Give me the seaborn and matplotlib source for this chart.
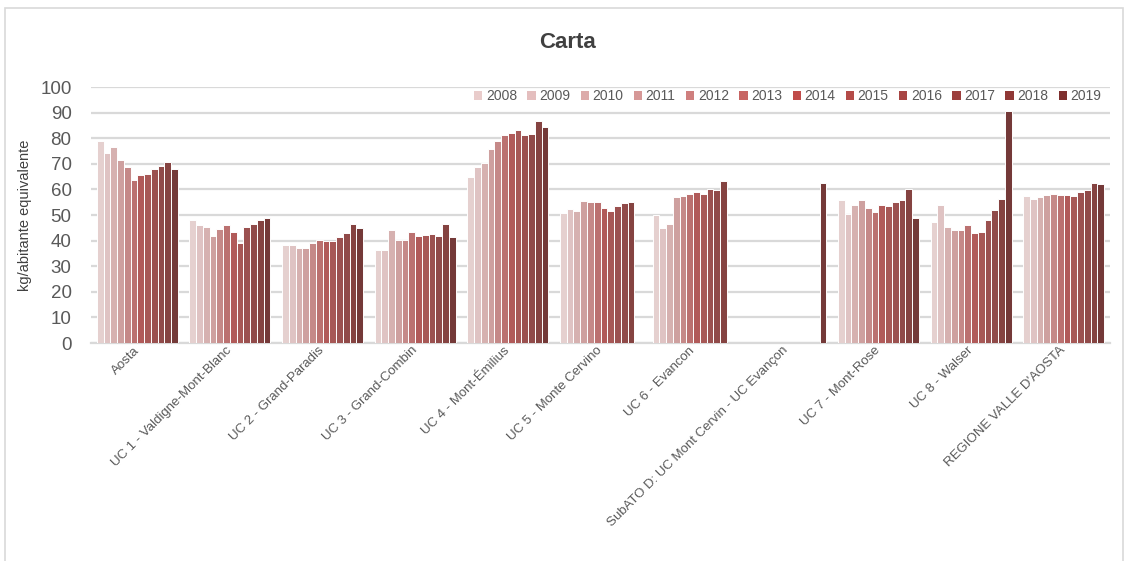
import numpy as np
import pandas as pd
import matplotlib
matplotlib.use("Agg")
import matplotlib.pyplot as plt
import matplotlib.patches as mpatches
import seaborn as sns

nan = np.nan
years = [str(y) for y in range(2008, 2020)]
categories = ["Aosta", "UC 1 - Valdigne-Mont-Blanc", "UC 2 - Grand-Paradis",
              "UC 3 - Grand-Combin", "UC 4 - Mont-Émilius", "UC 5 - Monte Cervino",
              "UC 6 - Evancon", "SubATO D: UC Mont Cervin - UC Evançon",
              "UC 7 - Mont-Rose", "UC 8 - Walser", "REGIONE VALLE D'AOSTA"]

aosta = [78.9, 74.4, 76.5, 71.4, 68.9, 63.5, 65.5, 65.9, 68.0, 69.3, 70.6, 68.0]
uc1 = [48.1, 46.0, 45.3, 41.9, 44.5, 46.0, 43.2, 38.9, 45.3, 46.6, 48.2, 49.0]
uc2 = [38.1, 38.4, 37.2, 37.2, 38.9, 40.2, 39.7, 39.7, 41.5, 42.8, 46.6, 44.9]
uc3 = [36.3, 36.3, 44.0, 40.2, 40.2, 43.2, 41.9, 42.3, 42.7, 41.9, 46.6, 41.5]
uc4 = [65.0, 68.9, 70.2, 75.7, 79.1, 81.1, 81.9, 83.2, 81.1, 81.7, 86.6, 84.4]
uc5 = [50.7, 52.4, 51.6, 55.4, 55.0, 55.0, 52.8, 51.6, 53.7, 54.5, 55.0, nan]
uc6 = [50.1, 44.9, 46.6, 57.1, 57.5, 58.3, 58.8, 58.3, 60.1, 59.7, 63.3, nan]
subato_d = [nan] * 11 + [62.5]
uc7 = [55.8, 50.3, 54.1, 55.8, 52.8, 51.1, 54.1, 53.7, 55.0, 55.8, 60.1, 49.0]
uc8 = [47.3, 54.1, 45.3, 44.0, 44.3, 46.0, 43.0, 43.4, 48.1, 52.0, 56.2, 90.8]
regione = [57.5, 56.2, 57.0, 57.7, 58.3, 57.7, 57.7, 57.3, 59.0, 59.6, 62.4, 62.0]

series = [aosta, uc1, uc2, uc3, uc4, uc5, uc6, subato_d, uc7, uc8, regione]

colors = ["#E9CCCB", "#E4BEBE", "#DCABAA", "#D69897", "#CF7F7E", "#C86563",
          "#C04C4A", "#B44B48", "#A84543", "#9C3F3D", "#903836", "#7E2F2E"]

rows = []
for cat, vals in zip(categories, series):
    for yr, v in zip(years, vals):
        rows.append({"cat": cat, "year": yr, "val": v})
df = pd.DataFrame(rows)

sns.set_style("white")
font_list = ["Liberation Sans", "DejaVu Sans"]
plt.rcParams["font.family"] = font_list

fig = plt.figure(figsize=(11.29, 5.61), dpi=100)
ax = fig.add_axes([91 / 1129, 1 - 343 / 561, (1110 - 91) / 1129, (343 - 87) / 561])

sns.barplot(data=df, x="cat", y="val", hue="year", order=categories,
            hue_order=years, palette=colors, width=0.875, errorbar=None,
            edgecolor="white", linewidth=0.7, ax=ax, legend=False, zorder=3)

ax.set_ylim(0, 100)
ax.set_xlim(-0.5, len(categories) - 0.5)
ax.set_yticks(range(0, 101, 10))
ax.yaxis.grid(True, color="#D9D9D9", linewidth=1.6, zorder=0)
ax.set_axisbelow(True)
for s in ["top", "right", "left"]:
    ax.spines[s].set_visible(False)
ax.spines["bottom"].set_color("#D9D9D9")
ax.spines["bottom"].set_linewidth(1.6)
ax.tick_params(axis="y", length=0, labelsize=13.5, labelcolor="#595959", pad=14)
ax.tick_params(axis="x", length=0, labelsize=9.5, labelcolor="#595959", pad=4)
ax.set_xlabel("")
ax.set_ylabel("kg/abitante equivalente", fontsize=10.5, color="#404040", labelpad=6)
for lab in ax.get_xticklabels():
    lab.set_rotation(45)
    lab.set_ha("right")
    lab.set_va("center")
    lab.set_rotation_mode("anchor")

handles = [mpatches.Patch(facecolor=c, edgecolor="none") for c in colors]
ax.legend(handles, years, ncol=12, loc="upper right", bbox_to_anchor=(0.997, 1.012),
          frameon=False, fontsize=10, handlelength=0.6, handleheight=0.6,
          handletextpad=0.25, columnspacing=0.75, labelcolor="#595959",
          borderaxespad=0.0)

fig.text(0.503, 1 - 42 / 561, "Carta", ha="center", va="center", fontsize=16,
         fontweight="bold", color="#404040",
         family=["Liberation Sans", "DejaVu Sans"])

border = mpatches.Rectangle((5 / 1129, -0.02), (1123 - 5) / 1129, 1 - 8 / 561 + 0.02,
                            transform=fig.transFigure, fill=False,
                            edgecolor="#D9D9D9", linewidth=1.2)
fig.patches.append(border)

fig.savefig("out.png", dpi=100, facecolor="white")
